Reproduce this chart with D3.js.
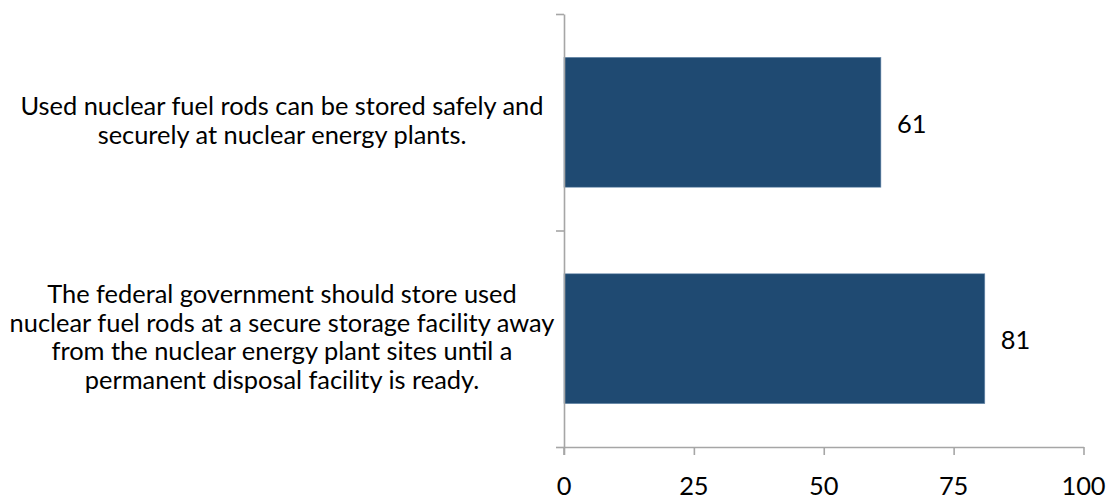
<!DOCTYPE html>
<html>
<head>
<meta charset="utf-8">
<script src="https://cdn.jsdelivr.net/npm/d3@7"></script>
<style>
  html, body { margin: 0; padding: 0; background: #fff; }
  svg { display: block; }
  text { font-family: Lato, "Open Sans", sans-serif; fill: #000; }
</style>
</head>
<body>
<svg id="chart" width="1106" height="501"></svg>
<script>
// ---- data ----
const categories = [
  ["Used nuclear fuel rods can be stored safely and", "securely at nuclear energy plants."],
  ["The federal government should store used", "nuclear fuel rods at a secure storage facility away", "from the nuclear energy plant sites until a", "permanent disposal facility is ready."]
];
const values = [61, 81];
const xTicks = [0, 25, 50, 75, 100];

// ---- layout ----
const W = 1106, H = 501;
const plot = { left: 564, right: 1083.5, top: 14, bottom: 447 };
const barColor = "#1f4a72";
const axisColor = "#a6a6a6";

const svg = d3.select("#chart");

const x = d3.scaleLinear().domain([0, 100]).range([plot.left, plot.right]);
const idx = categories.map((d, i) => i);
const y = d3.scaleBand().domain(idx).range([plot.top, plot.bottom]).paddingInner(0.4).paddingOuter(0.2);
const yB = d3.scaleLinear().domain([0, categories.length]).range([plot.top, plot.bottom]);

// font size fit (Calibri-like widths)
const probe = svg.append("text").attr("font-size", 24).text(categories[1][1]);
const natural = probe.node().getComputedTextLength();
probe.remove();
const fs = 24 * 545 / natural;
const lineH = 28.5;

// bars
svg.append("g").selectAll("rect").data(values).join("rect")
  .attr("x", x(0))
  .attr("y", (d, i) => y(i))
  .attr("width", d => x(d) - x(0))
  .attr("height", y.bandwidth())
  .attr("fill", barColor)
  .attr("stroke", "#6f8fb0")
  .attr("stroke-width", 0.6);

// value labels
svg.append("g").selectAll("text").data(values).join("text")
  .attr("x", d => x(d) + 16)
  .attr("y", (d, i) => y(i) + y.bandwidth() / 2 + 10.5)
  .attr("font-size", fs)
  .text(d => d);

// x axis
const xAxis = svg.append("g")
  .attr("transform", `translate(0,${plot.bottom})`)
  .call(d3.axisBottom(x).tickValues(xTicks).tickSize(8).tickSizeOuter(0).tickFormat(""));
xAxis.select(".domain").attr("stroke", axisColor).attr("stroke-width", 1.6);
xAxis.selectAll(".tick line").attr("stroke", axisColor).attr("stroke-width", 1.6);

svg.append("g").selectAll("text").data(xTicks).join("text")
  .attr("x", d => x(d))
  .attr("y", 495)
  .attr("text-anchor", "middle")
  .attr("font-size", fs)
  .text(d => d);

// y axis
const yAxis = svg.append("g")
  .attr("transform", `translate(${plot.left},0)`)
  .call(d3.axisLeft(yB).tickValues(d3.range(categories.length + 1)).tickSize(8).tickSizeOuter(0).tickFormat(""));
yAxis.select(".domain").attr("stroke", axisColor).attr("stroke-width", 1.6);
yAxis.selectAll(".tick line").attr("stroke", axisColor).attr("stroke-width", 1.6);
svg.append("line")
  .attr("x1", plot.left).attr("x2", plot.left)
  .attr("y1", plot.bottom).attr("y2", plot.bottom + 8)
  .attr("stroke", axisColor).attr("stroke-width", 1.6);

// category labels
const labels = svg.append("g").selectAll("text").data(categories).join("text")
  .attr("text-anchor", "middle")
  .attr("font-size", fs);
labels.each(function(lines, i) {
  const c = y(i) + y.bandwidth() / 2;
  d3.select(this).selectAll("tspan").data(lines).join("tspan")
    .attr("x", 282)
    .attr("y", (l, j) => c + (j - (lines.length - 1) / 2) * lineH + 7)
    .text(l => l);
});
</script>
</body>
</html>
